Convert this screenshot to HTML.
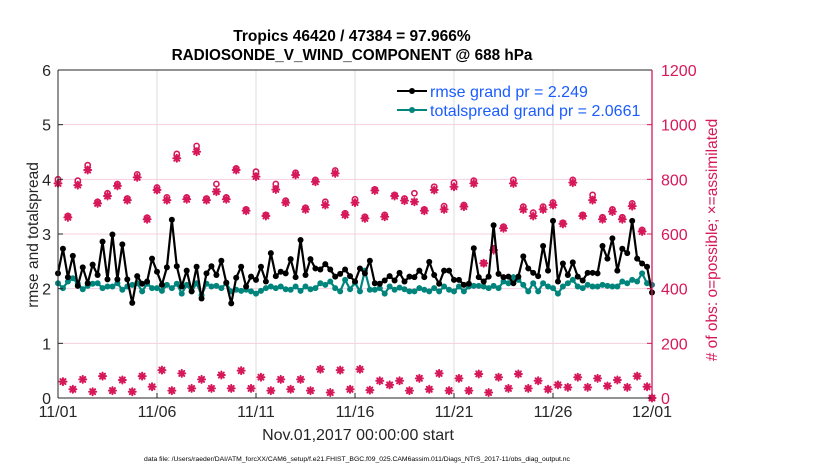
<!DOCTYPE html>
<html><head><meta charset="utf-8"><style>
body{margin:0;background:#fff;}
svg{display:block;font-family:"Liberation Sans",Arial,sans-serif;}
</style></head><body>
<svg id="chart" width="830" height="470" viewBox="0 0 830 470" xmlns="http://www.w3.org/2000/svg">
<rect x="0" y="0" width="830" height="470" fill="#fff"/>
<text x="352" y="41" text-anchor="middle" font-size="15.5" font-weight="bold" fill="#000">Tropics 46420 / 47384 = 97.966%</text>
<text x="352" y="60" text-anchor="middle" font-size="15.3" font-weight="bold" fill="#000">RADIOSONDE_V_WIND_COMPONENT @ 688 hPa</text>
<g id="grid"></g>
<g id="marks"></g>
<g id="axes"></g>
<text transform="translate(38,235) rotate(-90)" text-anchor="middle" font-size="15.5" fill="#262626">rmse and totalspread</text>
<text transform="translate(717,240) rotate(-90)" text-anchor="middle" font-size="15.5" fill="#d6185a"># of obs: o=possible; ×=assimilated</text>
<text x="358" y="440" text-anchor="middle" font-size="16" fill="#262626">Nov.01,2017 00:00:00 start</text>
<text x="357" y="461" text-anchor="middle" font-size="6.8" fill="#000">data file: /Users/raeder/DAI/ATM_forcXX/CAM6_setup/f.e21.FHIST_BGC.f09_025.CAM6assim.011/Diags_NTrS_2017-11/obs_diag_output.nc</text>
<g id="legend">
<g>
<line x1="397" y1="91" x2="427" y2="91" stroke="#000" stroke-width="2"/><circle cx="412" cy="91" r="3" fill="#000"/>
<text x="430" y="97" font-size="16" fill="#1a5cff">rmse grand pr = 2.249</text></g>
<g>
<line x1="397" y1="110" x2="427" y2="110" stroke="#00857d" stroke-width="2"/><circle cx="412" cy="110" r="3" fill="#00857d"/>
<text x="430" y="116" font-size="16" fill="#1a5cff">totalspread grand pr = 2.0661</text></g>
</g>
</svg>
<script>
const rmse=[2.28,2.73,2.21,2.60,2.05,2.39,2.10,2.44,2.25,2.86,2.17,2.99,2.17,2.81,2.17,1.74,2.23,2.09,2.13,2.55,2.31,2.07,2.39,3.26,2.41,2.04,2.33,1.95,2.40,1.82,2.28,2.41,2.25,2.51,2.11,1.73,2.20,2.40,2.04,2.22,
2.16,2.40,2.13,2.65,2.23,2.31,2.28,2.54,2.21,2.89,2.25,2.54,2.37,2.35,2.45,2.35,2.22,2.27,2.35,2.23,2.13,2.37,2.28,2.51,2.10,2.09,2.15,2.23,2.15,2.29,2.13,2.22,2.21,2.33,2.21,2.49,2.25,2.09,2.33,2.33,
2.16,2.16,2.07,2.09,2.74,2.21,2.13,2.22,3.16,2.27,2.21,2.22,2.10,2.22,2.59,2.37,2.29,2.23,2.78,2.33,3.24,2.13,2.46,2.25,2.48,2.22,2.15,2.29,2.29,2.28,2.78,2.55,2.92,2.33,2.73,2.65,3.24,2.55,2.46,2.40,1.93];
const spreadZ=[430,445,425,415,432,448,438,432,430,445,440,440,430,450,440,435,430,455,432,445,445,452,435,445,432,460,435,455,430,465,432,440,438,445,430,455,450,452,450,455,
460,452,445,440,445,440,448,450,440,452,440,448,445,430,435,425,445,455,420,448,428,455,392,450,450,445,460,440,450,442,448,455,455,445,450,455,445,455,440,450,
455,440,455,440,437,437,440,445,438,445,425,430,412,420,435,455,430,455,430,440,445,460,440,430,420,440,445,435,440,440,435,438,440,440,425,430,420,425,400,430,435];
const totalspread=spreadZ.map(z=>Math.round((774-z)/164*100)/100);
const assimHigh=[785,661,779,834,712,739,776,724,807,654,761,724,877,727,901,724,755,727,834,685,810,666,763,715,816,690,791,706,822,670,715,657,759,663,739,722,718,685,761,690,773,700,785,493,541,621,785,690,666,690,706,637,788,666,724,654,682,654,702,609,0];
const possHigh=[800,666,795,852,718,749,783,730,818,660,770,734,893,734,922,730,783,734,840,690,828,670,783,722,824,696,798,718,832,676,727,663,763,670,743,730,749,690,773,702,788,706,795,493,548,627,798,700,678,700,715,641,798,670,743,661,690,661,712,615,0];
const obsLow=[60,32,68,23,80,27,66,23,80,41,102,27,90,35,68,35,84,35,100,35,76,27,68,32,68,27,105,20,102,32,105,29,63,48,63,27,72,32,90,27,72,27,88,20,76,35,88,35,63,32,48,39,76,39,72,44,66,39,80,41];
const xTickLabels=["11/01","11/06","11/11","11/16","11/21","11/26","12/01"];
const yTicksLeft=[0,1,2,3,4,5,6];
const yTicksRight=[0,200,400,600,800,1000,1200];

const NS="http://www.w3.org/2000/svg";
const X0=58,X1=652,Y0=398,Y1=70;
const nSteps=rmse.length-1;
const xk=k=>X0+(X1-X0)*k/nSteps;
const xd=d=>X0+(X1-X0)*d/30;
const yL=v=>Y0-(Y0-Y1)*v/6;
const yR=v=>Y0-(Y0-Y1)*v/1200;
function mk(t,a,p){const e=document.createElementNS(NS,t);for(const k in a)e.setAttribute(k,a[k]);p.appendChild(e);return e;}
const grid=document.getElementById('grid'),marks=document.getElementById('marks'),axes=document.getElementById('axes');
xTickLabels.forEach((l,i)=>{const x=xd(i*5);
 const g=mk('line',{x1:x,y1:Y1,x2:x,y2:Y0,stroke:'#dcdcdc','stroke-width':1},grid);
 
 
 const t=mk('line',{x1:x,y1:Y0,x2:x,y2:Y0-5,stroke:'#262626'},axes);
 
 
 const tx=mk('text',{x:x,y:Y0+19,'text-anchor':'middle','font-size':16,fill:'#262626'},axes);tx.textContent=l;
 
 
});
yTicksLeft.forEach(v=>{const y=yL(v);
 const g=mk('line',{x1:X0,y1:y,x2:X1,y2:y,stroke:'#f5cfe0','stroke-width':1},grid);
 
 
 mk('line',{x1:X0,y1:y,x2:X0+5,y2:y,stroke:'#262626'},axes);
 const t=mk('text',{x:X0-7,y:y+6,'text-anchor':'end','font-size':16,fill:'#262626'},axes);t.textContent=v;
 
 
});
yTicksRight.forEach(v=>{const y=yR(v);
 mk('line',{x1:X1,y1:y,x2:X1-5,y2:y,stroke:'#d6185a'},axes);
 const t=mk('text',{x:X1+9,y:y+6,'font-size':16,fill:'#d6185a'},axes);t.textContent=v;
 
 
});
mk('line',{x1:X0,y1:Y1,x2:X1,y2:Y1,stroke:'#262626'},axes);
mk('line',{x1:X0,y1:Y0,x2:X1,y2:Y0,stroke:'#262626'},axes);
mk('line',{x1:X0,y1:Y1,x2:X0,y2:Y0,stroke:'#262626'},axes);
mk('line',{x1:X1,y1:Y1,x2:X1,y2:Y0,stroke:'#d6185a','stroke-width':1.3},axes);

const PINK='#d6185a';
function star(x,y){const g=mk('g',{stroke:PINK,'stroke-width':2,'stroke-linecap':'round'},marks);
 
 
 mk('line',{x1:x-3.5,y1:y,x2:x+3.5,y2:y},g);mk('line',{x1:x,y1:y-3.5,x2:x,y2:y+3.5},g);
 mk('line',{x1:x-2.5,y1:y-2.5,x2:x+2.5,y2:y+2.5},g);mk('line',{x1:x-2.5,y1:y+2.5,x2:x+2.5,y2:y-2.5},g);
 mk('circle',{cx:x,cy:y,r:2,fill:PINK,stroke:'none'},g);}
function ring(x,y){const c=mk('circle',{cx:x,cy:y,r:2.6,fill:'#fff',stroke:PINK,'stroke-width':1.6},marks);
 
 }
possHigh.forEach((v,i)=>{ring(xk(i*2),yR(v));});
assimHigh.forEach((v,i)=>{star(xk(i*2),yR(v));});
obsLow.forEach((v,i)=>{star(xk(i*2+1),yR(v));});

function series(arr,col,name){
 const p=mk('polyline',{points:arr.map((v,i)=>xk(i)+','+yL(v)).join(' '),fill:'none',stroke:col,'stroke-width':2.2,'stroke-linejoin':'round'},marks);
 
 
 arr.forEach((v,i)=>{const c=mk('circle',{cx:xk(i),cy:yL(v),r:3,fill:col},marks);
  
  });
}
series(totalspread,'#00857d','totalspread');
series(rmse,'#000','rmse');
</script>
</body></html>
